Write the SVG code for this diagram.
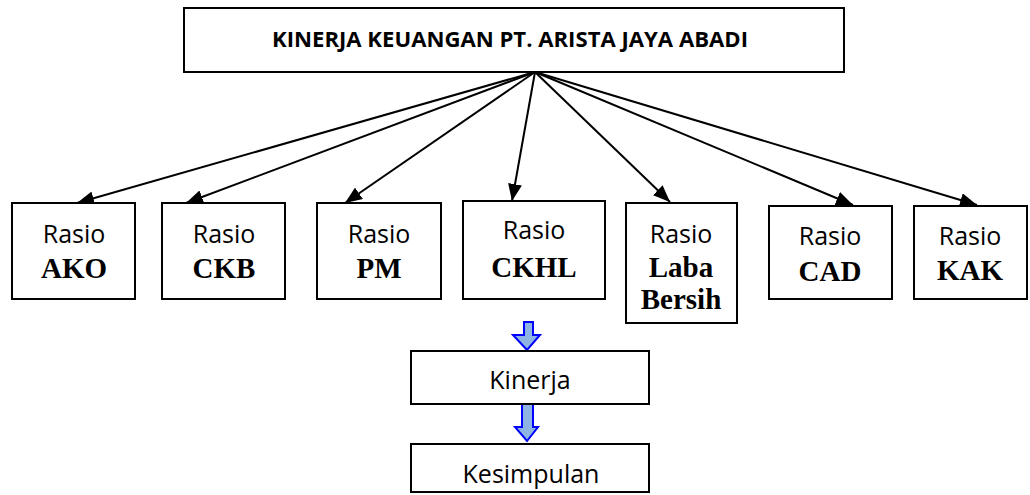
<svg xmlns="http://www.w3.org/2000/svg" width="1030" height="495" viewBox="0 0 1030 495">
<style>
.box{fill:#fff;stroke:#000;stroke-width:2}
.sans{font-family:"Open Sans","Liberation Sans",sans-serif;font-size:25px;fill:#000;text-anchor:middle}
.title{font-family:"Open Sans","Liberation Sans",sans-serif;font-size:21px;font-weight:bold;fill:#000;text-anchor:middle}
.serif{font-family:"Liberation Serif","Times New Roman",serif;font-size:29px;font-weight:bold;fill:#000;text-anchor:middle}
.conn{stroke:#000;stroke-width:2;fill:none;marker-end:url(#ah)}
.blue{fill:#8eb4e3;stroke:#0000ff;stroke-width:2}
</style>
<defs>
<marker id="ah" markerUnits="userSpaceOnUse" markerWidth="18" markerHeight="14" refX="17" refY="7" orient="auto">
<path d="M0,0 L17,7 L0,14 Z" fill="#000"/>
</marker>
</defs>
<g id="connectors">
<line class="conn" x1="535" y1="72" x2="77" y2="203"/>
<line class="conn" x1="535" y1="72" x2="186" y2="203"/>
<line class="conn" x1="535" y1="72" x2="345" y2="203"/>
<line class="conn" x1="535" y1="72" x2="512" y2="201"/>
<line class="conn" x1="535" y1="72" x2="670" y2="202"/>
<line class="conn" x1="535" y1="72" x2="853" y2="205"/>
<line class="conn" x1="535" y1="72" x2="977" y2="205"/>
<path class="blue" d="M524,322 H533 V335 H540 L527,350 L513,335 H524 Z"/>
<path class="blue" d="M522,404 H533 V427 H538 L527,441 L515,427 H522 Z"/>
</g>
<g id="title">
<rect class="box" x="184" y="8" width="660" height="64"/>
<text class="title" x="510" y="47" textLength="476" lengthAdjust="spacingAndGlyphs">KINERJA KEUANGAN PT. ARISTA JAYA ABADI</text>
</g>
<g id="ako">
<rect class="box" x="12" y="203" width="123" height="96"/>
<text class="sans" x="74" y="243">Rasio</text>
<text class="serif" x="74" y="278">AKO</text>
</g>
<g id="ckb">
<rect class="box" x="162" y="203" width="123" height="96"/>
<text class="sans" x="224" y="243">Rasio</text>
<text class="serif" x="224" y="278">CKB</text>
</g>
<g id="pm">
<rect class="box" x="317" y="203" width="124" height="96"/>
<text class="sans" x="379" y="243">Rasio</text>
<text class="serif" x="379" y="278">PM</text>
</g>
<g id="ckhl">
<rect class="box" x="463" y="201" width="142" height="98"/>
<text class="sans" x="534" y="239">Rasio</text>
<text class="serif" x="534" y="277">CKHL</text>
</g>
<g id="laba">
<rect class="box" x="626" y="203" width="111" height="120"/>
<text class="sans" x="681" y="243">Rasio</text>
<text class="serif" x="681" y="277">Laba</text>
<text class="serif" x="681" y="309">Bersih</text>
</g>
<g id="cad">
<rect class="box" x="769" y="206" width="123" height="93"/>
<text class="sans" x="830" y="245">Rasio</text>
<text class="serif" x="830" y="281">CAD</text>
</g>
<g id="kak">
<rect class="box" x="914" y="206" width="113" height="93"/>
<text class="sans" x="970" y="245">Rasio</text>
<text class="serif" x="970" y="280">KAK</text>
</g>
<g id="kinerja">
<rect class="box" x="411" y="351" width="238" height="53"/>
<text class="sans" x="530" y="389">Kinerja</text>
</g>
<g id="kesimpulan">
<rect class="box" x="411" y="444" width="238" height="48"/>
<text class="sans" x="531" y="483">Kesimpulan</text>
</g>
</svg>
